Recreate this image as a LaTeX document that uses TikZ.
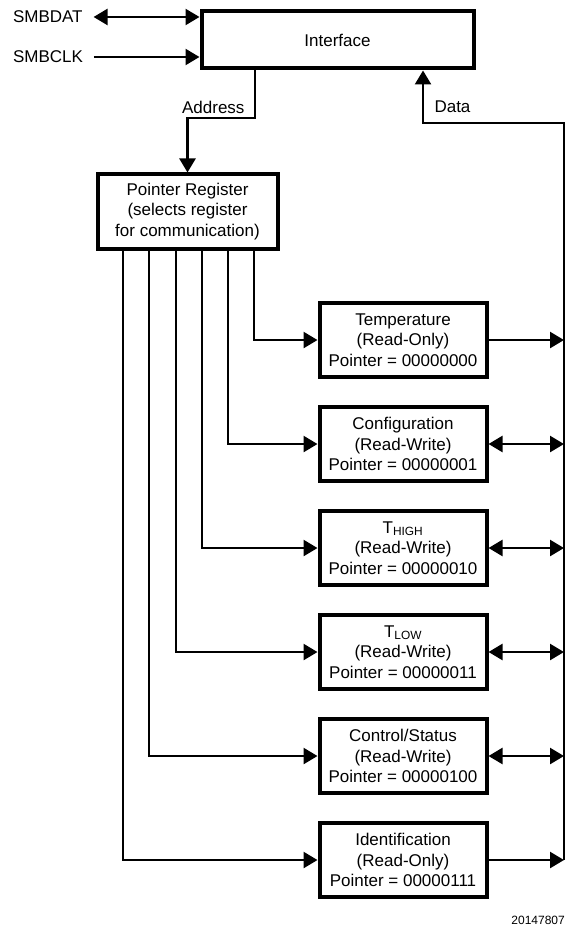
\documentclass[tikz,border=0pt]{standalone}
\usepackage{fontspec}
\setmainfont{Liberation Sans}
\usetikzlibrary{arrows.meta}

\tikzset{
    box/.style={draw, line width=4pt, align=center, inner sep=2pt},
    reg/.style={box, minimum width=167pt, minimum height=74pt},
    arr/.style={line width=2.5pt, -{Triangle[length=14pt,width=16pt]}},
    dbl/.style={line width=2.5pt, {Triangle[length=14pt,width=16pt]}-{Triangle[length=14pt,width=16pt]}},
    pin/.style={anchor=west, inner sep=0pt, outer sep=11pt}
}

\begin{document}
\begin{tikzpicture}[x=1pt, y=-1pt, every node/.style={font=\fontsize{17}{20.5}\selectfont}]
    \useasboundingbox (0,0) rectangle (565,928);

    % Interface
    \node[box, minimum width=272pt, minimum height=57pt] (interface) at (337.5,40) {Interface};

    % SMBus pins
    \node[pin] (smbdat) at (2,17) {SMBDAT};
    \node[pin] (smbclk) at (2,57) {SMBCLK};
    \draw[dbl] (smbdat) -- (smbdat -| interface.west);
    \draw[arr] (smbclk) -- (smbclk -| interface.west);

    % Pointer register
    \node[box, minimum width=180pt, minimum height=74pt] (ptr) at (187.5,211.5)
        {Pointer Register\\(selects register\\for communication)};

    % Address path
    \coordinate (addr) at (255,118);
    \draw[arr] (interface.south -| addr) -- (addr) -| (ptr.north);
    \node[anchor=east] (addrlbl) at (248,107) {Address};

    % Data bus
    \coordinate (datapt) at (423,123);
    \coordinate (bus) at (564,123);
    \node[anchor=west] (datalbl) at (431,107) {Data};

    % Registers
    \foreach \nm/\ttl/\md/\pv/\yy/\xx/\tip in {
        temp/Temperature/Read-Only/00000000/340/254/arr,
        conf/Configuration/Read-Write/00000001/444/228/dbl,
        thigh/T\textsubscript{HIGH}/Read-Write/00000010/548/202/dbl,
        tlow/T\textsubscript{LOW}/Read-Write/00000011/652/176/dbl,
        ctrl/{Control/Status}/Read-Write/00000100/756/149/dbl,
        ident/Identification/Read-Only/00000111/860/123/arr}
    {
        \node[reg] (\nm) at (403,\yy) {\ttl\\(\md)\\Pointer = \pv};
        \coordinate (tap\nm) at (\xx,0);
        \draw[arr] (ptr.south -| tap\nm) |- (\nm.west);
        \draw[\tip] (\nm.east) -- (\nm.east -| bus);
    }
    \draw[arr] (bus |- ident) -- (bus) -- (datapt) -- (interface.south -| datapt);

    % Figure number
    \node[anchor=east, inner sep=0pt, font=\fontsize{12}{14}\selectfont] (figno) at (565,920) {20147807};
\end{tikzpicture}
\end{document}
